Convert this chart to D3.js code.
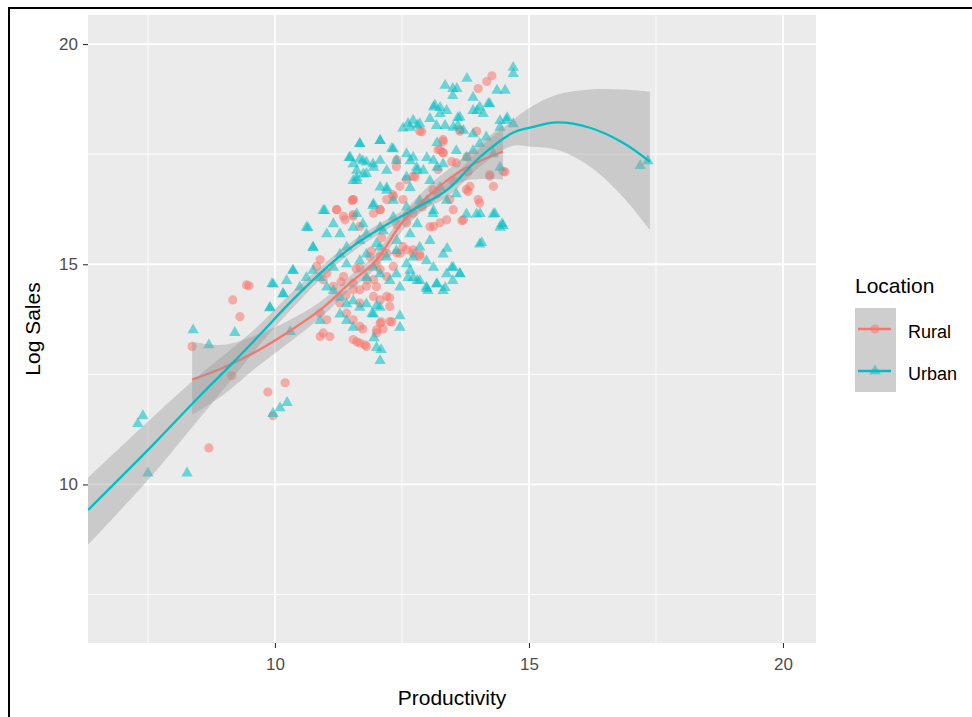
<!DOCTYPE html>
<html>
<head>
<meta charset="utf-8">
<script src="https://cdn.jsdelivr.net/npm/d3@7"></script>
<style>
  body { margin: 0; background: #fff; }
  svg text { font-family: "Liberation Sans", Arial, sans-serif; }
</style>
</head>
<body>
<div class="chart"></div>
<script>
// chart size
let w = 972
let h = 717

// ---------------- data ------------------------------------------- //
let xTicks = [10, 15, 20];
let yTicks = [10, 15, 20];
let groups = ["Rural", "Urban"];

// Urban points (triangles)
let urbanX = [7.40, 7.30, 7.50, 8.27, 8.39, 8.70, 9.21, 9.90, 10.30, 9.96, 10.10, 10.24, 10.16, 9.94,
  17.19, 17.34,
  14.69, 14.69, 13.78, 14.37, 14.53, 13.35, 13.58, 13.50, 13.90,
  14.57, 14.43, 14.33, 14.47, 14.07,
  14.04, 14.49, 13.39, 13.64, 13.48, 13.50, 13.19, 13.35, 12.99, 12.80, 12.66, 12.62,
  12.46, 11.95, 12.09, 13.01, 12.00, 11.91,
  10.98, 10.65, 10.75, 10.35, 11.61, 11.46,
  12.72, 12.66, 12.85, 13.12, 13.25, 13.38, 13.64, 13.90, 14.03, 14.23, 13.18, 13.51, 13.71, 13.90, 14.56, 14.43, 14.69,
  11.67, 12.07, 12.33, 11.48, 11.67, 11.80, 11.94, 11.61, 11.74, 11.54, 12.07, 12.20, 12.39, 12.59, 12.72, 12.79, 12.59,
  12.92, 13.12, 13.31, 13.57, 13.77, 13.90, 14.03, 14.16, 14.30, 14.43, 13.05, 13.25, 12.07, 12.20, 11.94, 12.33,
  10.95, 11.15, 10.62, 11.02, 10.75, 11.28, 11.54, 11.41, 11.67, 11.80, 12.07, 12.33, 12.59, 12.85, 13.12, 13.38,
  13.57, 13.77, 13.97, 14.30, 14.43, 14.03,
  11.28, 11.15, 11.41, 11.67, 11.80, 12.07, 12.20, 12.39, 12.59, 12.72, 12.85, 12.98, 13.12, 13.31, 13.38, 13.51,
  13.64, 12.72, 12.85, 12.98, 13.18, 13.31, 12.39, 12.46, 12.26, 12.07, 11.94, 11.80,
  10.36, 10.23, 9.97, 10.16, 9.90, 10.49, 10.62, 10.75, 10.89, 11.02, 11.15, 11.28, 11.41, 11.54, 11.67, 11.80,
  11.94, 12.07, 11.28, 11.41, 11.54, 10.89, 12.46, 12.00, 12.07,
  12.62, 12.80, 12.52, 13.05, 13.15, 13.25, 13.50, 13.19, 13.35, 13.60, 13.60, 13.98, 14.10, 14.20,
  11.67, 12.07, 12.30, 11.73, 11.54, 11.93, 12.66, 12.99, 13.19, 12.80, 11.61, 11.80,
  11.93, 12.20, 12.66, 12.99, 13.11, 12.80, 12.66, 13.05, 12.13, 12.00, 12.40, 11.73, 11.61];
let urbanY = [11.58, 11.40, 10.28, 10.28, 13.53, 13.19, 13.47, 14.03, 13.49, 11.63, 11.76, 11.88, 14.35, 14.58,
  17.26, 17.37,
  19.49, 19.35, 19.24, 18.97, 18.97, 19.08, 19.01, 18.85, 18.81,
  18.35, 18.28, 16.17, 15.94, 15.51,
  16.17, 15.90, 15.38, 14.81, 14.95, 14.65, 14.58, 14.49, 14.47, 14.65, 14.88, 14.72,
  13.85, 13.35, 13.08, 14.42, 14.08, 13.90,
  16.24, 15.85, 15.40, 14.88, 16.92, 17.44,
  18.29, 18.13, 18.21, 18.59, 18.44, 18.51, 18.36, 18.51, 18.59, 18.66, 18.17, 18.13, 18.06, 17.98, 18.29, 18.13, 18.21,
  17.76, 17.83, 17.64, 17.45, 17.41, 17.34, 17.22, 17.15, 17.07, 16.92, 17.38, 17.15, 17.38, 17.53, 17.45, 17.22, 17.00,
  17.15, 17.38, 17.30, 17.60, 17.45, 17.60, 17.76, 17.91, 17.53, 17.22, 16.92, 16.77, 16.77, 16.70, 16.39, 16.47,
  16.24, 15.94, 15.86, 15.71, 15.41, 15.71, 15.86, 15.41, 15.56, 15.71, 15.86, 16.09, 16.32, 16.47, 16.24, 16.47,
  16.62, 16.16, 16.16, 16.16, 15.86, 15.48,
  15.25, 14.95, 15.03, 15.10, 15.25, 15.41, 15.18, 15.33, 15.03, 15.18, 15.41, 15.10, 14.95, 15.25, 14.80, 14.95,
  14.80, 14.72, 14.65, 14.50, 14.57, 14.42, 14.80, 14.50, 14.65, 14.80, 14.95, 14.72,
  14.88, 14.65, 14.57, 14.35, 14.04, 14.50, 14.72, 14.88, 14.72, 14.50, 14.42, 14.27, 14.12, 14.19, 14.04, 14.12,
  13.89, 14.04, 13.89, 13.74, 13.59, 13.74, 13.59, 13.13, 12.83,
  18.22, 18.18, 18.11, 18.33, 18.63, 18.58, 19.01, 17.78, 18.17, 18.35, 18.17, 18.51, 18.44, 18.67,
  17.76, 17.83, 17.65, 17.37, 17.30, 17.30, 17.37, 17.44, 17.22, 17.15, 16.99, 17.08,
  16.35, 16.76, 16.76, 16.47, 16.17, 15.94, 15.71, 15.56, 15.78, 15.49, 15.56, 15.94, 16.17];

// Rural points (circles)
let ruralX = [8.37, 9.15, 9.86, 10.20, 9.96, 8.70, 9.31, 9.17, 9.49,
  14.27, 14.17, 14.00, 12.89, 13.25, 14.53, 14.23, 13.80, 13.68, 14.00,
  12.26, 12.09, 12.30, 11.73, 12.00, 12.13, 11.61, 11.77, 11.22, 11.52, 11.38,
  12.85, 13.31, 13.64, 13.97, 12.33, 12.46, 12.59, 12.72, 12.39, 11.54, 11.21, 11.35, 11.54, 11.67, 11.94, 12.07,
  12.20, 12.59, 12.72, 13.12, 13.38, 13.51, 13.77, 13.71, 13.31, 13.57, 14.03, 14.23, 14.49, 14.30, 13.84,
  10.82, 10.89, 11.02, 10.95, 11.15, 11.35, 11.54, 11.67, 11.80, 11.94, 12.07, 12.20, 12.33, 12.46, 12.59, 12.72,
  12.85, 12.20, 12.07, 11.94, 12.07, 12.20, 12.26, 11.67, 11.28, 11.41, 11.54, 10.89, 11.02, 10.95, 10.89, 11.08,
  11.67, 11.54, 11.67, 11.80, 12.00, 12.07, 12.26, 9.44,
  11.30, 11.60, 11.90, 12.10, 12.40, 12.60, 12.90, 13.20, 13.50, 13.80, 12.00, 11.40,
  13.31, 13.21, 13.31, 13.64, 13.48, 13.78, 12.40, 12.76, 13.21,
  11.54, 12.32, 12.07, 11.54, 12.52, 13.11, 13.44, 13.25, 13.05, 12.52, 12.72, 12.85, 12.40, 11.87, 11.67, 11.81, 12.00, 11.54];
let ruralY = [13.13, 12.47, 12.10, 12.31, 11.56, 10.83, 13.81, 14.19, 14.51,
  19.28, 19.15, 18.99, 18.01, 17.60, 17.10, 17.03, 16.65, 15.99, 16.47,
  14.24, 13.69, 13.69, 13.53, 13.44, 13.53, 13.24, 13.17, 16.24, 16.44, 16.01,
  18.02, 17.79, 18.02, 18.02, 16.54, 16.77, 16.92, 17.00, 17.22, 16.47, 16.24, 16.09, 16.09, 15.86, 16.16, 16.24,
  16.47, 15.94, 16.16, 15.86, 16.01, 16.24, 16.70, 16.01, 17.53, 17.30, 16.39, 17.00, 17.11, 16.77, 16.77,
  14.95, 15.10, 14.80, 14.65, 14.50, 14.72, 14.57, 14.42, 14.50, 14.65, 14.88, 14.72, 14.95, 15.25, 15.33, 15.25,
  15.18, 15.25, 15.18, 14.27, 14.19, 14.27, 14.04, 14.12, 14.12, 13.89, 13.74, 13.89, 13.74, 13.44, 13.36, 13.36,
  13.59, 13.29, 13.21, 13.13, 13.51, 13.66, 13.70, 14.53,
  14.60, 14.90, 15.30, 15.60, 15.90, 16.10, 16.30, 16.60, 16.90, 17.10, 15.00, 14.30,
  17.83, 17.60, 17.53, 18.06, 17.33, 17.44, 17.37, 16.99, 17.15,
  16.47, 16.58, 16.24, 16.13, 16.47, 16.69, 16.47, 15.94, 15.85, 15.40, 15.33, 15.22, 15.26, 15.17, 14.92, 14.65, 14.49, 14.42];

// loess fits with confidence band
let urbanFitX = [6.32, 7.54, 8.52, 9.17, 9.70, 10.35, 11.08, 11.57, 12.07, 12.72, 13.39, 14.04, 14.69, 15.02, 15.55, 16.20, 16.85, 17.38];
let urbanFitY = [9.42, 10.83, 12.01, 12.76, 13.40, 14.19, 14.99, 15.44, 15.81, 16.24, 16.69, 17.44, 17.99, 18.10, 18.22, 18.10, 17.76, 17.33];
let urbanFitHi = [10.15, 11.47, 12.49, 13.10, 13.63, 14.38, 15.12, 15.56, 15.93, 16.35, 16.85, 17.65, 18.28, 18.56, 18.85, 18.97, 18.97, 18.92];
let urbanFitLo = [8.63, 10.15, 11.51, 12.42, 13.17, 14.01, 14.86, 15.32, 15.70, 16.13, 16.53, 17.22, 17.69, 17.67, 17.60, 17.22, 16.53, 15.78];

let ruralFitX = [8.37, 8.98, 9.65, 10.30, 10.94, 11.48, 11.97, 12.52, 13.05, 13.70, 14.49];
let ruralFitY = [12.38, 12.65, 13.03, 13.49, 14.01, 14.58, 15.06, 15.97, 16.58, 17.15, 17.56];
let ruralFitHi = [13.24, 13.17, 13.40, 13.74, 14.19, 14.74, 15.22, 16.15, 16.81, 17.42, 18.17];
let ruralFitLo = [11.58, 12.03, 12.67, 13.24, 13.83, 14.42, 14.90, 15.78, 16.35, 16.88, 16.92];

let colors = { Rural: "#F8766D", Urban: "#00BFC4" };

// ---------------- svg -------------------- //
let svg = d3.select(".chart")
  .append("svg")
  .attr("width", w)
  .attr("height", h);

svg.append("rect").attr("width", w).attr("height", h).attr("fill", "#fff");

// panel
let panel = { left: 88, right: 816, top: 15, bottom: 643 };

let x = d3.scaleLinear().domain([6.32, 20.65]).range([panel.left, panel.right]);
let y = d3.scaleLinear().domain([6.4, 20.66]).range([panel.bottom, panel.top]);

svg.append("rect")
  .attr("x", panel.left).attr("y", panel.top)
  .attr("width", panel.right - panel.left)
  .attr("height", panel.bottom - panel.top)
  .attr("fill", "#EBEBEB");

// minor grid
let xMinor = [7.5, 12.5, 17.5];
let yMinor = [7.5, 12.5, 17.5];
svg.selectAll(".xminor").data(xMinor).enter().append("line")
  .attr("x1", d => x(d)).attr("x2", d => x(d))
  .attr("y1", panel.top).attr("y2", panel.bottom)
  .attr("stroke", "#fff").attr("stroke-width", 0.9);
svg.selectAll(".yminor").data(yMinor).enter().append("line")
  .attr("y1", d => y(d)).attr("y2", d => y(d))
  .attr("x1", panel.left).attr("x2", panel.right)
  .attr("stroke", "#fff").attr("stroke-width", 0.9);

// major grid
svg.selectAll(".xmajor").data(xTicks).enter().append("line")
  .attr("x1", d => x(d)).attr("x2", d => x(d))
  .attr("y1", panel.top).attr("y2", panel.bottom)
  .attr("stroke", "#fff").attr("stroke-width", 1.8);
svg.selectAll(".ymajor").data(yTicks).enter().append("line")
  .attr("y1", d => y(d)).attr("y2", d => y(d))
  .attr("x1", panel.left).attr("x2", panel.right)
  .attr("stroke", "#fff").attr("stroke-width", 1.8);

// clip everything to the panel
svg.append("clipPath").attr("id", "clip")
  .append("rect")
  .attr("x", panel.left).attr("y", panel.top)
  .attr("width", panel.right - panel.left)
  .attr("height", panel.bottom - panel.top);

let plot = svg.append("g").attr("clip-path", "url(#clip)");

// points
let rural = ruralX.map((d, i) => ({ x: d, y: ruralY[i] }));
let urban = urbanX.map((d, i) => ({ x: d, y: urbanY[i] }));

plot.selectAll(".rural").data(rural).enter().append("circle")
  .attr("cx", d => x(d.x)).attr("cy", d => y(d.y))
  .attr("r", 4.6)
  .attr("fill", colors.Rural).attr("fill-opacity", 0.55);

let tri = d3.symbol().type(d3.symbolTriangle).size(56);
plot.selectAll(".urban").data(urban).enter().append("path")
  .attr("d", tri)
  .attr("transform", d => "translate(" + x(d.x) + "," + (y(d.y) + 1) + ")")
  .attr("fill", colors.Urban).attr("fill-opacity", 0.55);

// smooths: ribbon then line, one group at a time
let area = d3.area()
  .x(d => x(d.x)).y0(d => y(d.lo)).y1(d => y(d.hi))
  .curve(d3.curveCatmullRom);
let line = d3.line()
  .x(d => x(d.x)).y(d => y(d.y))
  .curve(d3.curveCatmullRom);

function drawSmooth(fx, fy, fhi, flo, col) {
  let pts = fx.map((d, i) => ({ x: d, y: fy[i], hi: fhi[i], lo: flo[i] }));
  plot.append("path").datum(pts)
    .attr("d", area)
    .attr("fill", "#999999").attr("fill-opacity", 0.4);
  plot.append("path").datum(pts)
    .attr("d", line)
    .attr("fill", "none")
    .attr("stroke", col).attr("stroke-width", 2.3);
}
drawSmooth(ruralFitX, ruralFitY, ruralFitHi, ruralFitLo, colors.Rural);
drawSmooth(urbanFitX, urbanFitY, urbanFitHi, urbanFitLo, colors.Urban);

// axes
let xAxis = svg.append("g")
  .attr("transform", "translate(0," + panel.bottom + ")")
  .call(d3.axisBottom(x).tickValues(xTicks).tickSize(5).tickPadding(10));
let yAxis = svg.append("g")
  .attr("transform", "translate(" + panel.left + ",0)")
  .call(d3.axisLeft(y).tickValues(yTicks).tickSize(5).tickPadding(5));

[xAxis, yAxis].forEach(a => {
  a.select(".domain").remove();
  a.selectAll("line").attr("stroke", "#333333").attr("stroke-width", 1.1);
  a.selectAll("text")
    .attr("fill", "#4D4D4D")
    .style("font-size", "17px")
    .style("font-family", "'Liberation Sans', Arial, sans-serif");
});

// axis titles
svg.append("text")
  .attr("x", (panel.left + panel.right) / 2)
  .attr("y", 705)
  .attr("text-anchor", "middle")
  .attr("fill", "#000")
  .style("font-size", "21px")
  .text("Productivity");

svg.append("text")
  .attr("transform", "translate(40," + ((panel.top + panel.bottom) / 2) + ") rotate(-90)")
  .attr("text-anchor", "middle")
  .attr("fill", "#000")
  .style("font-size", "21px")
  .text("Log Sales");

// legend
let legend = svg.append("g").attr("transform", "translate(855,0)");
legend.append("text")
  .attr("x", 0).attr("y", 293)
  .attr("fill", "#000")
  .style("font-size", "21px")
  .text("Location");

let keyH = 42;
groups.forEach((g, i) => {
  let ky = 308 + i * keyH;
  legend.append("rect")
    .attr("x", 0).attr("y", ky)
    .attr("width", 41).attr("height", keyH)
    .attr("fill", "#F2F2F2");
  legend.append("rect")
    .attr("x", 0).attr("y", ky)
    .attr("width", 41).attr("height", keyH)
    .attr("fill", "#999999").attr("fill-opacity", 0.4);
  legend.append("line")
    .attr("x1", 3).attr("x2", 36)
    .attr("y1", ky + keyH / 2).attr("y2", ky + keyH / 2)
    .attr("stroke", colors[g]).attr("stroke-width", 2.3);
  if (g == "Rural") {
    legend.append("circle")
      .attr("cx", 20).attr("cy", ky + keyH / 2).attr("r", 4.6)
      .attr("fill", colors[g]).attr("fill-opacity", 0.55);
  } else {
    legend.append("path")
      .attr("d", tri)
      .attr("transform", "translate(20," + (ky + keyH / 2) + ")")
      .attr("fill", colors[g]).attr("fill-opacity", 0.55);
  }
  legend.append("text")
    .attr("x", 53).attr("y", ky + keyH / 2 + 9)
    .attr("fill", "#000")
    .style("font-size", "18px")
    .text(g);
});

// frame around the picture
svg.append("path")
  .attr("d", "M9," + h + "V8H" + w)
  .attr("fill", "none")
  .attr("stroke", "#000")
  .attr("stroke-width", 2);
</script>
</body>
</html>
